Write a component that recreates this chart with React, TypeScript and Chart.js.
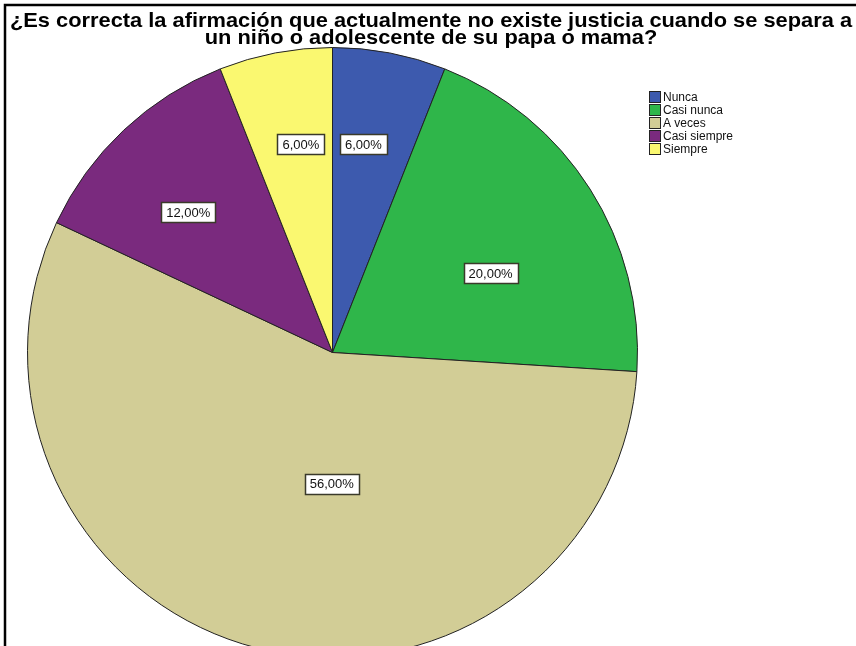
import React, { useEffect, useRef } from "react";
import { Chart, registerables } from "chart.js";

Chart.register(...registerables);

const categories = ["Nunca", "Casi nunca", "A veces", "Casi siempre", "Siempre"];
const percentages = [6, 20, 56, 12, 6];
const sliceColors = ["#3D5AAE", "#2FB64A", "#D2CD96", "#7A2A7E", "#FAF870"];
const titleLines = [
  "¿Es correcta la afirmación que actualmente no existe justicia cuando se separa a",
  "un niño o adolescente de su papa o mama?",
];
// label placement inside each slice: fraction along the slice's angle, fraction of radius
const labelAngleFrac = [0.39, 0.58, 0.43, 0.44, 0.6];
const labelRadiusFrac = [0.69, 0.58, 0.43, 0.66, 0.69];

const FONT = "'Liberation Sans', Arial, sans-serif";

const decorPlugin = {
  id: "decor",
  afterDraw(chart: any) {
    const ctx = chart.ctx as CanvasRenderingContext2D;
    const total = percentages.reduce((a, b) => a + b, 0);
    const meta = chart.getDatasetMeta(0);
    ctx.save();
    // slice labels
    ctx.font = `13px ${FONT}`;
    ctx.textAlign = "center";
    ctx.textBaseline = "middle";
    meta.data.forEach((arc: any, i: number) => {
      const p = arc.getProps(["x", "y", "startAngle", "endAngle", "outerRadius"], true);
      const a = p.startAngle + labelAngleFrac[i] * (p.endAngle - p.startAngle);
      const r = labelRadiusFrac[i] * p.outerRadius;
      const x = p.x + Math.cos(a) * r;
      const y = p.y + Math.sin(a) * r;
      const txt = ((percentages[i] / total) * 100).toFixed(2).replace(".", ",") + "%";
      const w = ctx.measureText(txt).width + 10;
      const h = 20;
      ctx.fillStyle = "#FFFFFF";
      ctx.fillRect(Math.round(x - w / 2) + 0.5, Math.round(y - h / 2) + 0.5, Math.round(w), h);
      ctx.strokeStyle = "#3a3a2a";
      ctx.lineWidth = 1.5;
      ctx.strokeRect(Math.round(x - w / 2) + 0.5, Math.round(y - h / 2) + 0.5, Math.round(w), h);
      ctx.fillStyle = "#111111";
      ctx.fillText(txt, x, y + 1);
    });
    // title (slightly widened like the reference)
    ctx.save();
    ctx.translate(431, 0);
    ctx.scale(1.065, 1);
    ctx.fillStyle = "#000000";
    ctx.font = `bold 20.5px ${FONT}`;
    ctx.textAlign = "center";
    ctx.textBaseline = "alphabetic";
    ctx.fillText(titleLines[0], 0, 27);
    ctx.fillText(titleLines[1], 0, 44);
    ctx.restore();
    // legend
    ctx.font = `12px ${FONT}`;
    ctx.textAlign = "left";
    ctx.textBaseline = "middle";
    categories.forEach((c, i) => {
      const y = 97 + i * 13;
      ctx.fillStyle = sliceColors[i];
      ctx.fillRect(649.5, y - 5.5, 11, 11);
      ctx.strokeStyle = "#222222";
      ctx.lineWidth = 1;
      ctx.strokeRect(649.5, y - 5.5, 11, 11);
      ctx.fillStyle = "#111111";
      ctx.fillText(c, 663, y + 0.5);
    });
    // frame
    ctx.strokeStyle = "#000000";
    ctx.lineWidth = 2.5;
    ctx.beginPath();
    ctx.moveTo(5, 646);
    ctx.lineTo(5, 5);
    ctx.lineTo(856, 5);
    ctx.stroke();
    ctx.restore();
  },
};

export default function App() {
  const ref = useRef<HTMLCanvasElement | null>(null);
  useEffect(() => {
    document.body.style.margin = "0";
    const chart = new Chart(ref.current as HTMLCanvasElement, {
      type: "pie",
      data: {
        labels: categories,
        datasets: [
          {
            data: percentages,
            backgroundColor: sliceColors,
            borderColor: "#222222",
            borderWidth: 1,
            hoverOffset: 0,
          },
        ],
      },
      options: {
        animation: false,
        responsive: false,
        layout: { padding: { left: 27, right: 218, top: 47, bottom: 22 } },
        plugins: {
          legend: { display: false },
          title: { display: false },
          tooltip: { enabled: false },
        },
      },
      plugins: [decorPlugin],
    });
    return () => chart.destroy();
  }, []);
  return (
    <div style={{ position: "fixed", left: 0, top: 0, width: 856, height: 646, overflow: "hidden", background: "#fff" }}>
      <canvas ref={ref} width={856} height={680} style={{ display: "block" }} />
    </div>
  );
}
